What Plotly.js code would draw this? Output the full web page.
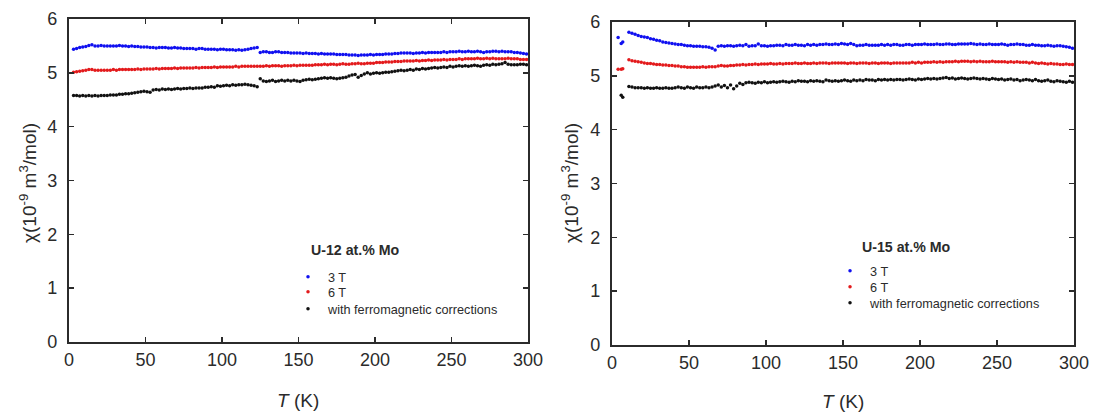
<!DOCTYPE html>
<html>
<head>
<meta charset="utf-8">
<script src="https://cdn.plot.ly/plotly-3.0.1.min.js"></script>
<style>
  html, body { margin: 0; padding: 0; background: #fff; }
  #chart { width: 1093px; height: 414px; }
</style>
</head>
<body>
<div id="chart"></div>
<script>
// Magnetic susceptibility chi(T) of U-Mo alloys, two panels.

// ---- U-12 at.% Mo ----
const tempU12 = [
  3,5,7,9,11,13,15,17,19,21,
  23,25,27,29,31,33,35,37,39,41,
  43,45,47,49,51,53,55,57,59,61,
  63,65,67,69,71,73,75,77,79,81,
  83,85,87,89,91,93,95,97,99,101,
  103,105,107,109,111,113,115,117,119,121,
  123,125,127,129,131,133,135,137,139,141,
  143,145,147,149,151,153,155,157,159,161,
  163,165,167,169,171,173,175,177,179,181,
  183,185,187,189,191,193,195,197,199,201,
  203,205,207,209,211,213,215,217,219,221,
  223,225,227,229,231,233,235,237,239,241,
  243,245,247,249,251,253,255,257,259,261,
  263,265,267,269,271,273,275,277,279,281,
  283,285,287,289,291,293,295,297,299
];
const chiU12_3T = [
  5.44,5.45,5.47,5.48,5.49,5.51,5.52,5.50,5.50,5.51,
  5.50,5.50,5.50,5.50,5.50,5.51,5.50,5.50,5.49,5.50,
  5.49,5.49,5.48,5.48,5.48,5.47,5.47,5.46,5.47,5.47,
  5.47,5.46,5.46,5.47,5.46,5.46,5.45,5.45,5.45,5.45,
  5.44,5.45,5.45,5.44,5.44,5.44,5.44,5.43,5.44,5.44,
  5.43,5.43,5.43,5.42,5.43,5.42,5.43,5.44,5.45,5.46,
  5.47,5.38,5.39,5.39,5.38,5.38,5.39,5.39,5.38,5.38,
  5.38,5.37,5.37,5.37,5.37,5.36,5.37,5.36,5.36,5.36,
  5.35,5.36,5.35,5.35,5.35,5.35,5.34,5.34,5.34,5.34,
  5.33,5.33,5.33,5.32,5.33,5.33,5.33,5.34,5.33,5.34,
  5.34,5.34,5.35,5.35,5.35,5.36,5.36,5.37,5.37,5.37,
  5.37,5.36,5.37,5.37,5.38,5.37,5.38,5.38,5.38,5.38,
  5.38,5.39,5.38,5.39,5.39,5.39,5.40,5.39,5.39,5.40,
  5.39,5.39,5.40,5.39,5.38,5.39,5.39,5.40,5.40,5.39,
  5.40,5.39,5.39,5.39,5.38,5.38,5.37,5.36,5.35
];
const chiU12_6T = [
  5.01,5.02,5.03,5.04,5.05,5.06,5.06,5.05,5.05,5.05,
  5.05,5.05,5.05,5.06,5.05,5.06,5.06,5.06,5.06,5.06,
  5.06,5.07,5.06,5.07,5.07,5.07,5.07,5.08,5.07,5.08,
  5.08,5.08,5.08,5.09,5.08,5.09,5.09,5.09,5.09,5.09,
  5.10,5.09,5.10,5.10,5.10,5.10,5.11,5.10,5.11,5.11,
  5.11,5.11,5.11,5.12,5.11,5.12,5.12,5.12,5.12,5.12,
  5.12,5.12,5.12,5.13,5.12,5.13,5.13,5.13,5.12,5.13,
  5.13,5.13,5.14,5.13,5.14,5.14,5.14,5.14,5.14,5.15,
  5.15,5.15,5.16,5.15,5.16,5.16,5.15,5.16,5.17,5.16,
  5.16,5.17,5.17,5.18,5.17,5.17,5.18,5.18,5.18,5.19,
  5.19,5.19,5.20,5.20,5.20,5.21,5.21,5.21,5.22,5.22,
  5.22,5.22,5.23,5.22,5.23,5.23,5.24,5.23,5.24,5.24,
  5.24,5.25,5.24,5.25,5.25,5.25,5.26,5.25,5.26,5.26,
  5.26,5.26,5.27,5.26,5.26,5.27,5.26,5.27,5.26,5.26,
  5.26,5.26,5.27,5.26,5.26,5.26,5.25,5.25,5.25
];
const chiU12_corr = [
  4.58,4.58,4.57,4.58,4.57,4.58,4.57,4.58,4.57,4.58,
  4.58,4.58,4.59,4.59,4.59,4.60,4.60,4.61,4.61,4.62,
  4.63,4.64,4.65,4.66,4.65,4.64,4.68,4.69,4.68,4.70,
  4.69,4.70,4.69,4.70,4.71,4.70,4.71,4.71,4.72,4.71,
  4.72,4.72,4.72,4.73,4.73,4.74,4.73,4.76,4.75,4.76,
  4.77,4.76,4.78,4.77,4.78,4.78,4.79,4.78,4.77,4.76,
  4.74,4.89,4.85,4.84,4.85,4.86,4.84,4.85,4.86,4.85,
  4.86,4.85,4.86,4.85,4.84,4.86,4.87,4.88,4.87,4.88,
  4.89,4.90,4.91,4.90,4.91,4.90,4.89,4.90,4.91,4.92,
  4.94,4.96,4.97,4.92,4.95,4.98,5.00,4.98,4.99,5.00,
  4.99,5.00,5.01,5.01,5.02,5.03,5.04,5.05,5.04,5.05,
  5.06,5.05,5.07,5.06,5.08,5.07,5.08,5.09,5.10,5.09,
  5.10,5.11,5.10,5.12,5.11,5.12,5.13,5.12,5.13,5.12,
  5.13,5.14,5.13,5.12,5.14,5.15,5.14,5.16,5.15,5.16,
  5.17,5.19,5.16,5.15,5.15,5.15,5.16,5.16,5.15
];

// ---- U-15 at.% Mo ----
const tempU15 = [
  4,6,7,
  11,13,15,17,19,21,23,25,27,29,
  31,33,35,37,39,41,43,45,47,49,
  51,53,55,57,59,61,63,65,67,69,
  71,73,75,77,79,81,83,85,87,89,
  91,93,95,97,99,101,103,105,107,109,
  111,113,115,117,119,121,123,125,127,129,
  131,133,135,137,139,141,143,145,147,149,
  151,153,155,157,159,161,163,165,167,169,
  171,173,175,177,179,181,183,185,187,189,
  191,193,195,197,199,201,203,205,207,209,
  211,213,215,217,219,221,223,225,227,229,
  231,233,235,237,239,241,243,245,247,249,
  251,253,255,257,259,261,263,265,267,269,
  271,273,275,277,279,281,283,285,287,289,
  291,293,295,297,299
];
const chiU15_3T = [
  5.71,5.60,5.63,
  5.81,5.79,5.77,5.75,5.73,5.72,5.71,5.69,5.68,5.66,
  5.65,5.63,5.62,5.61,5.60,5.59,5.58,5.58,5.57,5.56,
  5.56,5.55,5.55,5.55,5.54,5.54,5.53,5.51,5.48,5.55,
  5.56,5.55,5.56,5.56,5.55,5.56,5.57,5.56,5.58,5.55,
  5.56,5.56,5.59,5.56,5.56,5.55,5.56,5.56,5.57,5.57,
  5.56,5.58,5.57,5.57,5.58,5.57,5.57,5.56,5.58,5.57,
  5.58,5.57,5.58,5.58,5.59,5.58,5.58,5.59,5.58,5.60,
  5.59,5.58,5.60,5.58,5.56,5.57,5.57,5.58,5.57,5.57,
  5.57,5.57,5.58,5.57,5.58,5.57,5.58,5.58,5.57,5.57,
  5.58,5.58,5.57,5.58,5.58,5.58,5.59,5.58,5.58,5.58,
  5.59,5.58,5.58,5.59,5.59,5.58,5.58,5.59,5.59,5.59,
  5.59,5.60,5.59,5.58,5.59,5.58,5.58,5.59,5.58,5.58,
  5.58,5.59,5.58,5.57,5.58,5.58,5.59,5.58,5.58,5.57,
  5.57,5.58,5.57,5.57,5.56,5.56,5.57,5.56,5.55,5.56,
  5.56,5.55,5.54,5.53,5.51
];
const chiU15_6T = [
  5.12,5.12,5.13,
  5.30,5.28,5.27,5.26,5.25,5.24,5.23,5.23,5.22,5.21,
  5.21,5.20,5.20,5.19,5.19,5.18,5.18,5.17,5.17,5.16,
  5.16,5.16,5.16,5.16,5.17,5.16,5.17,5.17,5.17,5.18,
  5.19,5.18,5.18,5.19,5.19,5.20,5.20,5.21,5.20,5.21,
  5.21,5.22,5.21,5.22,5.22,5.22,5.23,5.22,5.22,5.23,
  5.22,5.23,5.23,5.23,5.24,5.23,5.23,5.24,5.23,5.23,
  5.24,5.23,5.24,5.24,5.24,5.23,5.24,5.24,5.24,5.24,
  5.24,5.23,5.24,5.24,5.23,5.24,5.24,5.24,5.23,5.24,
  5.24,5.23,5.24,5.24,5.24,5.23,5.24,5.24,5.24,5.24,
  5.24,5.24,5.25,5.24,5.25,5.24,5.25,5.25,5.25,5.26,
  5.25,5.26,5.25,5.26,5.26,5.26,5.27,5.26,5.27,5.27,
  5.27,5.26,5.27,5.26,5.27,5.26,5.26,5.26,5.27,5.26,
  5.26,5.26,5.26,5.25,5.26,5.25,5.26,5.25,5.25,5.25,
  5.24,5.25,5.24,5.23,5.24,5.23,5.22,5.23,5.22,5.22,
  5.21,5.21,5.22,5.21,5.21
];
const chiU15_corr = [
  null,4.64,4.60,
  4.80,4.79,4.78,4.78,4.78,4.77,4.78,4.77,4.77,4.78,
  4.77,4.77,4.78,4.77,4.77,4.78,4.79,4.78,4.77,4.79,
  4.78,4.77,4.79,4.78,4.78,4.79,4.78,4.79,4.81,4.83,
  4.79,4.82,4.78,4.83,4.76,4.81,4.86,4.84,4.87,4.88,
  4.87,4.86,4.88,4.87,4.89,4.87,4.88,4.89,4.88,4.89,
  4.90,4.89,4.88,4.90,4.89,4.91,4.90,4.90,4.89,4.91,
  4.90,4.91,4.90,4.89,4.92,4.91,4.90,4.91,4.90,4.91,
  4.92,4.91,4.90,4.92,4.91,4.92,4.91,4.93,4.92,4.92,
  4.91,4.93,4.92,4.93,4.92,4.93,4.92,4.93,4.93,4.92,
  4.93,4.94,4.93,4.92,4.94,4.93,4.94,4.95,4.94,4.95,
  4.94,4.95,4.96,4.97,4.95,4.96,4.94,4.95,4.96,4.95,
  4.94,4.95,4.96,4.95,4.94,4.95,4.94,4.93,4.95,4.94,
  4.93,4.94,4.92,4.93,4.94,4.92,4.93,4.91,4.92,4.93,
  4.92,4.91,4.93,4.91,4.90,4.91,4.92,4.90,4.89,4.91,
  4.90,4.89,4.88,4.90,4.88
];

const seriesNames = ['3 T', '6 T', 'with ferromagnetic corrections'];
const seriesColors = ['#1010f0', '#e31a1c', '#111111'];
const panelTitles = ['U-12 at.% Mo', 'U-15 at.% Mo'];
const tickVals = [0, 50, 100, 150, 200, 250, 300];
const yTickVals = [0, 1, 2, 3, 4, 5, 6];

const FONT = 'Liberation Sans, Arial, sans-serif';
const INK = '#2b2b2b';

// legend box positions (paper coords), one legend per series per panel
const legendSpots = [
  [[0.2635, 0.3309], [0.2635, 0.2947], [0.2635, 0.2536]],
  [[0.7594, 0.3454], [0.7594, 0.3068], [0.7594, 0.2681]]
];

const panels = [
  { x: tempU12, ys: [chiU12_3T, chiU12_6T, chiU12_corr], xa: 'x', ya: 'y' },
  { x: tempU15, ys: [chiU15_3T, chiU15_6T, chiU15_corr], xa: 'x2', ya: 'y2' }
];

const traces = [];
const legends = {};
let legendIdx = 1;
panels.forEach((p, pi) => {
  p.ys.forEach((ys, si) => {
    const key = legendIdx === 1 ? 'legend' : 'legend' + legendIdx;
    traces.push({
      type: 'scatter', mode: 'markers',
      x: p.x, y: ys, xaxis: p.xa, yaxis: p.ya,
      name: seriesNames[si],
      legend: key,
      marker: { color: seriesColors[si], size: 3.5 }
    });
    legends[key] = {
      x: legendSpots[pi][si][0], y: legendSpots[pi][si][1],
      xanchor: 'left', yanchor: 'middle',
      bgcolor: 'rgba(0,0,0,0)', borderwidth: 0,
      font: { family: FONT, size: 12.7, color: INK },
      itemclick: false, itemdoubleclick: false
    };
    legendIdx++;
  });
});

function xAxis(domain, anchor) {
  return {
    domain: domain, anchor: anchor, range: [0, 300],
    tickvals: tickVals, ticks: 'inside', ticklen: 5, tickwidth: 1.5, tickcolor: INK,
    showline: true, linewidth: 2, linecolor: INK, mirror: 'ticks',
    showgrid: false, zeroline: false,
    tickfont: { family: FONT, size: 18, color: INK }
  };
}
function yAxis(domain, anchor) {
  return {
    domain: domain, anchor: anchor, range: [0, 6],
    tickvals: yTickVals, ticks: 'inside', ticklen: 5, tickwidth: 1.5, tickcolor: INK,
    showline: true, linewidth: 2, linecolor: INK, mirror: 'ticks',
    showgrid: false, zeroline: false, ticklabelstandoff: 6,
    tickfont: { family: FONT, size: 18, color: INK }
  };
}

const yTitle = '\u03C7(10<sup>-9</sup> m<sup>3</sup>/mol)';
const xTitle = '<i>T</i> (K)';

const annotations = [
  { text: '<b>' + panelTitles[0] + '</b>', x: 0.2827, y: 0.3961, xanchor: 'left', yanchor: 'middle',
    font: { family: FONT, size: 14.2, color: INK } },
  { text: '<b>' + panelTitles[1] + '</b>', x: 0.7868, y: 0.4034, xanchor: 'left', yanchor: 'middle',
    font: { family: FONT, size: 14.2, color: INK } },
  { text: xTitle, x: 0.2731, y: 0.0338, xanchor: 'center', yanchor: 'middle',
    font: { family: FONT, size: 19, color: INK } },
  { text: xTitle, x: 0.7713, y: 0.0290, xanchor: 'center', yanchor: 'middle',
    font: { family: FONT, size: 19, color: INK } },
  { text: yTitle, x: 0.0256, y: 0.5580, xanchor: 'center', yanchor: 'middle', textangle: -90,
    font: { family: FONT, size: 19, color: INK } },
  { text: yTitle, x: 0.5215, y: 0.5580, xanchor: 'center', yanchor: 'middle', textangle: -90,
    font: { family: FONT, size: 19, color: INK } }
].map(a => Object.assign({ xref: 'paper', yref: 'paper', showarrow: false }, a));

const layout = Object.assign({
  width: 1093, height: 414,
  margin: { l: 0, r: 0, t: 0, b: 0 },
  paper_bgcolor: '#ffffff', plot_bgcolor: '#ffffff',
  showlegend: true,
  xaxis: xAxis([0.0631, 0.4831], 'y'),
  yaxis: yAxis([0.1739, 0.9541], 'x'),
  xaxis2: xAxis([0.5599, 0.9826], 'y2'),
  yaxis2: yAxis([0.1667, 0.9469], 'x2'),
  annotations: annotations
}, legends);

Plotly.newPlot('chart', traces, layout, { displayModeBar: false, staticPlot: true });
</script>
</body>
</html>
